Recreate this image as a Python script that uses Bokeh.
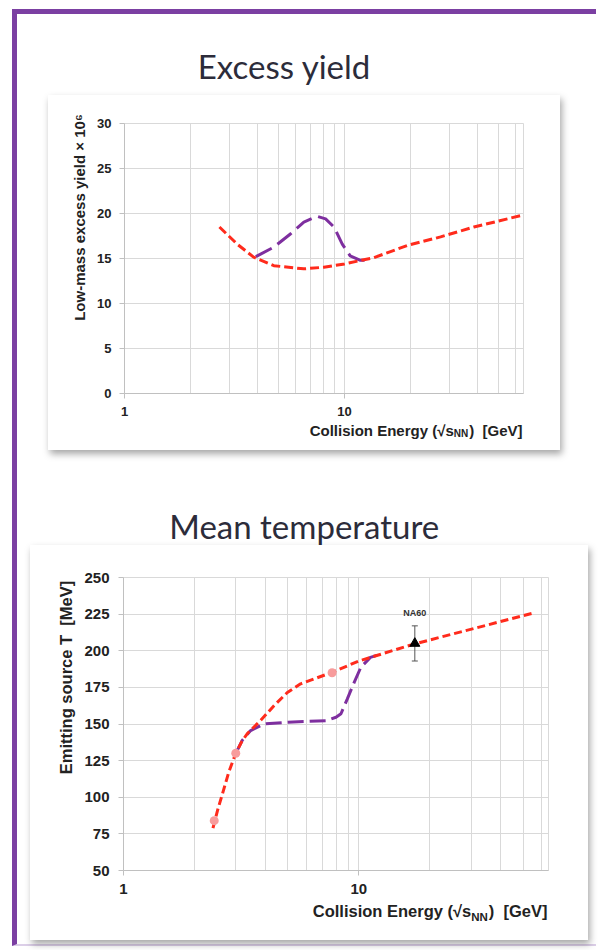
from bokeh.plotting import figure
from bokeh.models import Column, FixedTicker, Label, Whisker, ColumnDataSource, Range1d, NumeralTickFormatter, TeeHead
from bokeh.embed import file_html
from bokeh.resources import INLINE
from math import pi, log10

# ---------------- data ----------------
# Excess yield panel
yield_energy_model = [2.70, 3.25, 3.86, 4.77, 6.53, 8.05, 10.0, 13.6, 19.3, 27.3, 38.7, 64.0]
yield_model = [18.5, 16.6, 15.15, 14.2, 13.85, 14.03, 14.4, 15.1, 16.45, 17.4, 18.5, 19.8]
yield_energy_transition = [3.95, 4.77, 5.69, 6.53, 7.5, 8.2, 8.95, 9.76, 10.6, 11.8, 13.1]
yield_transition = [15.2, 16.26, 17.75, 19.05, 19.68, 19.4, 18.5, 16.6, 15.3, 14.8, 14.8]
yield_ticks = [0, 5, 10, 15, 20, 25, 30]

# Mean temperature panel
temp_energy_model = [2.40, 2.52, 2.63, 2.80, 3.0, 3.18, 3.36, 3.83, 4.36, 4.97, 5.66, 7.71, 10.0, 17.1, 56.0]
temp_model = [79, 92, 102, 117, 130, 138, 143.5, 152.5, 162.5, 171.5, 177.4, 185.3, 193, 204.5, 226]
temp_energy_transition = [3.0, 3.2, 3.47, 3.95, 5.0, 7.3, 8.0, 8.4, 8.93, 9.5, 10.2, 11.2, 12.6]
temp_transition = [130, 139, 145.5, 150, 151.2, 152.3, 154.6, 157, 167, 177.4, 188.7, 195.5, 198]
temp_marker_energy = [2.43, 3.0, 7.7]
temp_marker = [84, 130, 185]
na60_energy = [17.3]
na60_temp = [205]
na60_lower = [193]
na60_upper = [217]
na60_label_T = 225.5
temp_ticks = [50, 75, 100, 125, 150, 175, 200, 225, 250]

x_major = [1, 10]
x_minor = [2, 3, 4, 5, 6, 7, 8, 9, 20, 30, 40, 50, 60]

RED = "#ff2b1c"
PURPLE = "#7e2f9f"
PINK = "#f79c9c"
GRID = "#d9d9d9"
AXIS = "#c0c0c0"
TXT = "#222222"
FONT = "Liberation Sans"
TITLE_FONT = "Lato"
TITLE_COLOR = "#2c2c3a"
BORDER = "#7b3fa2"
SHADOW = "2px 4px 7px rgba(0,0,0,0.35)"
BL, BR = 76, 37   # common left/right borders of every figure in the column


def title_fig(text, w, h, x0, tx, ty, size):
    # x range expressed in page pixels, y range in local pixels (top = 0)
    t = figure(width=w, height=h, x_range=Range1d(x0 + BL, x0 + w - BR), y_range=Range1d(h, 0),
               x_axis_type=None, y_axis_type=None, toolbar_location=None, title=None,
               output_backend="svg", min_border=0, min_border_left=BL, min_border_right=BR,
               min_border_top=0, min_border_bottom=0)
    t.grid.visible = False
    t.outline_line_color = None
    t.background_fill_color = None
    t.border_fill_color = None
    t.add_layout(Label(x=tx, y=ty, text=text, text_align="center", text_baseline="alphabetic",
                       text_font=TITLE_FONT, text_font_size=size, text_color=TITLE_COLOR))
    return t


def chart(width, height, borders, xmax, yr, yticks, tick_size, xstand, ystand):
    l, r, t, b = borders
    p = figure(width=width, height=height, x_axis_type="log", x_range=Range1d(1, xmax),
               y_range=Range1d(*yr), toolbar_location=None, output_backend="svg", title=None,
               min_border_left=l, min_border_right=r, min_border_top=t, min_border_bottom=b)
    p.outline_line_color = GRID
    p.xaxis.ticker = FixedTicker(ticks=x_major, minor_ticks=x_minor)
    p.xaxis.formatter = NumeralTickFormatter(format="0")
    p.yaxis.ticker = FixedTicker(ticks=yticks)
    p.xgrid.grid_line_color = GRID
    p.xgrid.minor_grid_line_color = GRID
    p.ygrid.grid_line_color = GRID
    for ax in (p.xaxis[0], p.yaxis[0]):
        ax.axis_line_color = AXIS
        ax.major_tick_line_color = AXIS
        ax.major_tick_out = 5
        ax.major_tick_in = 0
        ax.minor_tick_out = 0
        ax.minor_tick_in = 0
        ax.major_label_text_font = FONT
        ax.major_label_text_font_style = "bold"
        ax.major_label_text_font_size = tick_size
        ax.major_label_text_color = TXT
    p.xaxis.major_label_standoff = xstand
    p.yaxis.major_label_standoff = ystand
    p.tags = [dict(W=width - l - r, H=height - t - b, xmax=xmax, y0=yr[0], y1=yr[1])]
    return p


def at(p, dx, dy):
    # frame-relative pixel offset (from frame left / frame bottom) -> data coordinates
    g = p.tags[0]
    x = 10 ** (log10(g["xmax"]) * dx / g["W"])
    y = g["y0"] + (g["y1"] - g["y0"]) * dy / g["H"]
    return x, y


def xlabel(p, xr, ym, ysub, fs, ss):
    # right-aligned composite label: "Collision Energy (√s" + subscript "NN" + ")  [GeV]"
    w3 = 3.556 * fs + 1
    w2 = 1.444 * ss
    common = dict(text_font=FONT, text_font_style="bold", text_color=TXT,
                  text_align="right", text_baseline="middle")
    x, y = at(p, xr - w3 - w2, ym)
    p.add_layout(Label(x=x, y=y, text="Collision Energy (\u221as", text_font_size=f"{fs}px", **common), "below")
    x, y = at(p, xr - w3, ysub)
    p.add_layout(Label(x=x, y=y, text="NN", text_font_size=f"{ss}px", **common), "right")
    x, y = at(p, xr, ym)
    p.add_layout(Label(x=x, y=y, text=")\u00a0 [GeV]", text_font_size=f"{fs}px", **common), "above")


def ylabel(p, text, dx, dy, fs):
    x, y = at(p, dx, dy)
    p.add_layout(Label(x=x, y=y, text=text, angle=pi / 2,
                       text_font=FONT, text_font_style="bold", text_font_size=f"{fs}px", text_color=TXT,
                       text_align="center", text_baseline="middle"), "left")


# ---------------- top panel ----------------
t1 = title_fig("Excess yield", 584, 81, 17, 286, 51, "33px")

p1 = chart(512, 355, (BL, BR, 28, 57), 65, (0, 30), yield_ticks, "13px", 8, 8)
p1.line(yield_energy_transition, yield_transition, line_color=PURPLE, line_width=3, line_dash="18 7")
p1.line(yield_energy_model, yield_model, line_color=RED, line_width=3, line_dash="9 4")
xlabel(p1, 398, -37, -40, 15, 10)
ylabel(p1, "Low-mass excess yield \u00d7 10\u2076", -45, 176, 15)
p1.margin = (0, 0, 0, 31)
p1.styles = {"box-shadow": SHADOW}

# ---------------- bottom panel ----------------
t2 = title_fig("Mean temperature", 584, 95, 17, 306, 75, "33px")

p2 = chart(538, 395, (BL, BR, 32, 70), 64, (50, 250), temp_ticks, "15px", 8, 9)
p2.line(temp_energy_transition, temp_transition, line_color=PURPLE, line_width=3, line_dash="16 6")
p2.line(temp_energy_model, temp_model, line_color=RED, line_width=3, line_dash="8 4")
p2.scatter(temp_marker_energy, temp_marker, size=9, fill_color=PINK, line_color=None)
src = ColumnDataSource(data=dict(x=na60_energy, y=na60_temp, lo=na60_lower, up=na60_upper))
p2.add_layout(Whisker(base="x", lower="lo", upper="up", source=src, line_color="#555555", line_width=1,
                      upper_head=TeeHead(size=6, line_color="#555555", line_width=1),
                      lower_head=TeeHead(size=6, line_color="#555555", line_width=1)))
p2.scatter("x", "y", source=src, marker="triangle", size=10, fill_color="black", line_color="black")
p2.add_layout(Label(x=na60_energy[0], y=na60_label_T, text="NA60", text_font=FONT, text_font_style="bold",
                    text_font_size="9px", text_color="#333333", text_align="center", text_baseline="middle"))
xlabel(p2, 424, -40, -46.5, 16.5, 11.5)
ylabel(p2, "Emitting source T\u00a0 [MeV]", -58, 193, 16.5)
p2.margin = (0, 3, 0, 17)
card2 = Column(children=[p2], margin=(0, 0, 0, 13),
               styles={"box-shadow": SHADOW, "background-color": "white"})

layout = Column(children=[t1, p1, t2, card2], margin=(9, 0, 0, 12),
                styles={"border-top": "5px solid " + BORDER, "border-left": "5px solid " + BORDER,
                        "border-bottom": "2px solid #dccfe8", "padding-bottom": "4px", "width": "584px"})

open("out.html", "w").write(file_html(layout, INLINE))
